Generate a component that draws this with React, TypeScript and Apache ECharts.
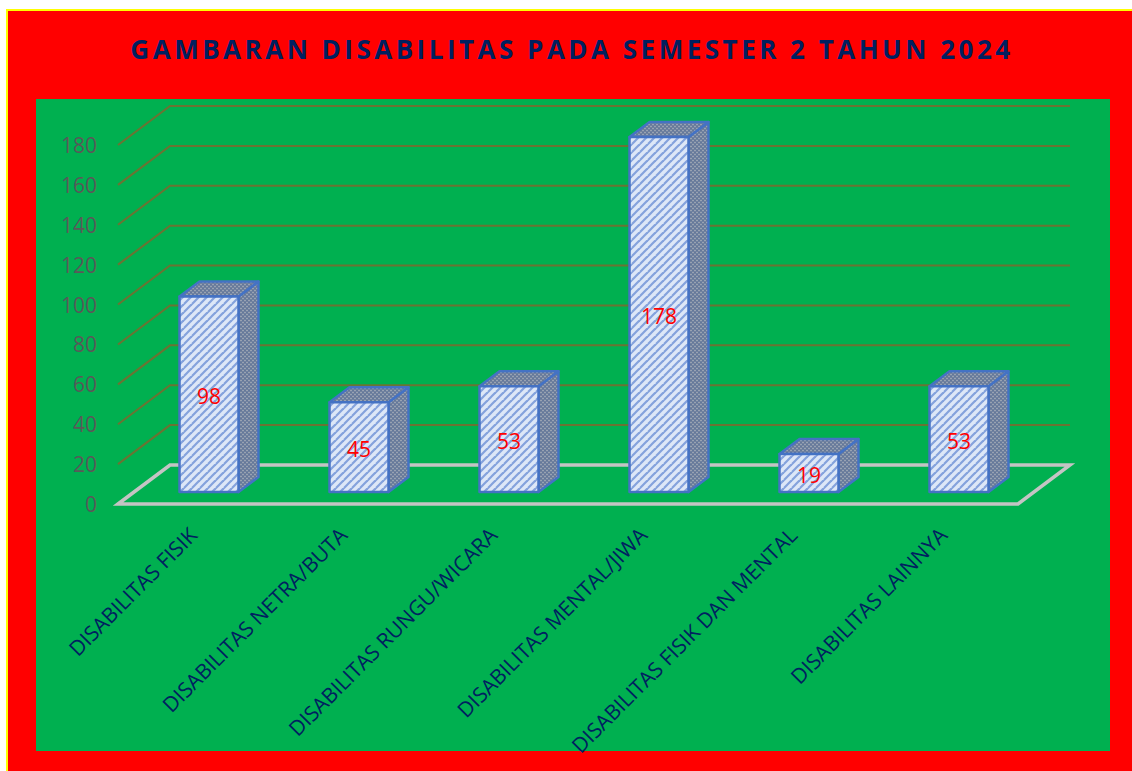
import React, { useEffect, useRef } from "react";
import * as echarts from "echarts";

const titleText = "GAMBARAN DISABILITAS PADA SEMESTER 2 TAHUN 2024";
const categories = [
  "DISABILITAS FISIK",
  "DISABILITAS NETRA/BUTA",
  "DISABILITAS RUNGU/WICARA",
  "DISABILITAS MENTAL/JIWA",
  "DISABILITAS FISIK DAN MENTAL",
  "DISABILITAS LAINNYA",
];
const values = [98, 45, 53, 178, 19, 53];
const ticks = [0, 20, 40, 60, 80, 100, 120, 140, 160, 180];

const FONT = '"Open Sans", sans-serif';
const DX = 52;
const DY = 39;
const BAR_W = 59;
const BAR_DX = 20;
const BAR_DY = 15;
const BAR_LIFT = 12;
const BAR_SHIFT = 16;
const BAR_LINE = "#4472c4";

function makePattern(kind: string) {
  const c = document.createElement("canvas");
  const s = kind === "stripe" ? 8 : 4;
  c.width = s;
  c.height = s;
  const g = c.getContext("2d")!;
  if (kind === "stripe") {
    g.fillStyle = "#dde7f7";
    g.fillRect(0, 0, s, s);
    g.strokeStyle = "#84a2dc";
    g.lineWidth = 2.2;
    for (let i = -s; i <= 2 * s; i += s) {
      g.beginPath();
      g.moveTo(i - s, s);
      g.lineTo(i + s, -s);
      g.stroke();
    }
  } else {
    g.fillStyle = "#71829f";
    g.fillRect(0, 0, s, s);
    g.fillStyle = "#98a2b2";
    g.fillRect(0, 0, 2, 1);
    g.fillRect(2, 2, 2, 1);
    g.fillStyle = "#64789a";
    g.fillRect(2, 0, 2, 1);
    g.fillRect(0, 2, 2, 1);
  }
  return { image: c, repeat: "repeat" };
}

export default function App() {
  const ref = useRef<HTMLDivElement>(null);

  useEffect(() => {
    document.body.style.margin = "0";
    const chart = echarts.init(ref.current!, null, { renderer: "svg" });
    const stripe = makePattern("stripe");
    const dots = makePattern("dots");

    const wallItem = (params: any, api: any) => {
      const v = api.value(1);
      const y = api.coord([0, v])[1];
      const x0 = params.coordSys.x;
      const x1 = x0 + params.coordSys.width;
      if (v === 0) {
        return {
          type: "polygon",
          shape: {
            points: [
              [x0, y],
              [x0 + DX, y - DY],
              [x1 + DX, y - DY],
              [x1, y],
            ],
          },
          style: { fill: "none", stroke: "#c4c4c4", lineWidth: 3.5 },
        };
      }
      return {
        type: "polyline",
        shape: {
          points: [
            [x0, y],
            [x0 + DX, y - DY],
            [x1 + DX, y - DY],
          ],
        },
        style: { fill: "none", stroke: "#6b7333", lineWidth: 2 },
      };
    };

    const barItem = (_params: any, api: any) => {
      const p = api.coord([api.value(0), api.value(1)]);
      const base = api.coord([api.value(0), 0]);
      const xl = base[0] + BAR_SHIFT - BAR_W / 2;
      const xr = xl + BAR_W;
      const yb = base[1] - BAR_LIFT;
      const yt = p[1] - BAR_LIFT;
      const edge = { stroke: BAR_LINE, lineWidth: 2.5, lineJoin: "round" };
      return {
        type: "group",
        children: [
          {
            type: "polygon",
            shape: {
              points: [
                [xr, yt],
                [xr + BAR_DX, yt - BAR_DY],
                [xr + BAR_DX, yb - BAR_DY],
                [xr, yb],
              ],
            },
            style: { fill: dots, ...edge },
          },
          {
            type: "polygon",
            shape: {
              points: [
                [xl, yt],
                [xl + BAR_DX, yt - BAR_DY],
                [xr + BAR_DX, yt - BAR_DY],
                [xr, yt],
              ],
            },
            style: { fill: dots, ...edge },
          },
          {
            type: "polygon",
            shape: {
              points: [
                [xl, yt],
                [xr, yt],
                [xr, yb],
                [xl, yb],
              ],
            },
            style: { fill: stripe, ...edge },
          },
          {
            type: "text",
            style: {
              x: (xl + xr) / 2,
              y: (yt + yb) / 2 + 1.5,
              text: String(api.value(1)),
              fill: "#ff0000",
              fontSize: 21,
              fontFamily: FONT,
              align: "center",
              verticalAlign: "middle",
            },
          },
        ],
      };
    };

    chart.setOption({
      animation: false,
      backgroundColor: "#ffffff",
      graphic: [
        { type: "rect", z: -3, shape: { x: 6, y: 9, width: 1126, height: 762 }, style: { fill: "#ffff00" } },
        { type: "rect", z: -2, shape: { x: 8, y: 11, width: 1124, height: 760 }, style: { fill: "#ff0000" } },
        { type: "rect", z: -1, shape: { x: 36, y: 99, width: 1074, height: 652 }, style: { fill: "#00b050" } },
      ],
      title: {
        text: titleText,
        left: 567,
        top: 31,
        textAlign: "center",
        textStyle: { color: "#002060", fontSize: 26, fontWeight: "bold", fontFamily: FONT },
      },
      grid: { left: 118, top: 145, width: 900, height: 359, containLabel: false },
      xAxis: {
        type: "category",
        data: categories,
        axisLine: { show: false },
        axisTick: { show: false },
        splitLine: { show: false },
        axisLabel: {
          interval: 0,
          rotate: 45,
          margin: 27,
          color: "#002060",
          fontSize: 21,
          fontFamily: FONT,
        },
      },
      yAxis: {
        type: "value",
        min: 0,
        max: 180,
        interval: 20,
        axisLine: { show: false },
        axisTick: { show: false },
        splitLine: { show: false },
        axisLabel: { margin: 21, color: "#595959", fontSize: 21, fontFamily: FONT, padding: [6, 0, 0, 0] },
      },
      series: [
        {
          type: "custom",
          z: 1,
          renderItem: wallItem,
          encode: { x: 0, y: 1 },
          data: ticks.map((t) => [0, t]),
          silent: true,
        },
        {
          type: "custom",
          z: 2,
          renderItem: barItem,
          encode: { x: 0, y: 1 },
          data: values.map((v, i) => [i, v]),
          silent: true,
        },
      ],
    });

    ref.current!.querySelectorAll("text").forEach((t) => {
      if (t.textContent === titleText) t.setAttribute("letter-spacing", "3.5");
    });

    return () => chart.dispose();
  }, []);

  return <div ref={ref} style={{ position: "fixed", left: 0, top: 0, width: 1132, height: 771, overflow: "hidden" }} />;
}
